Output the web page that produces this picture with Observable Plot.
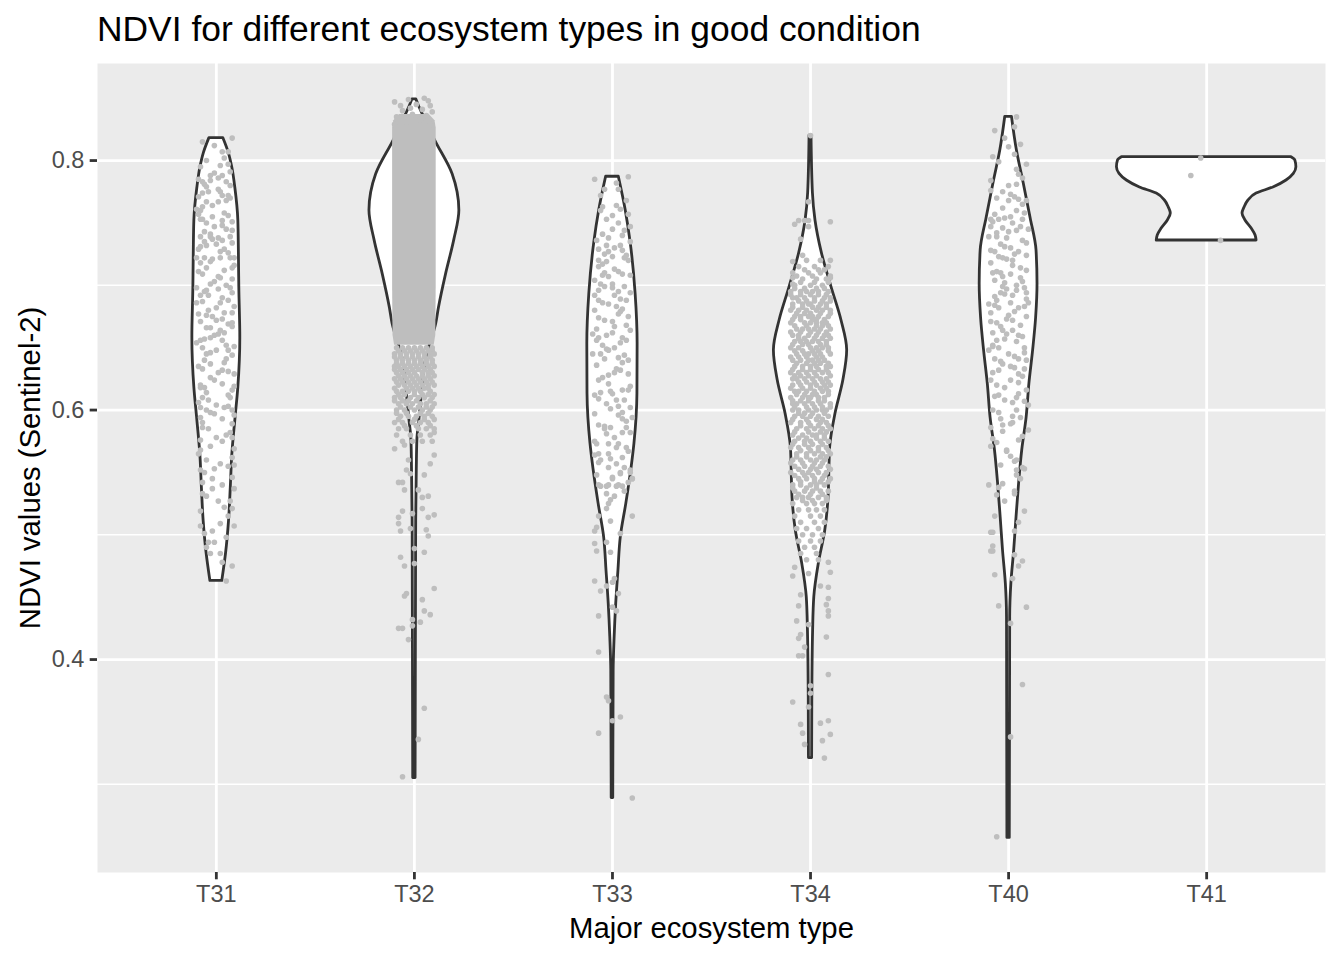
<!DOCTYPE html>
<html>
<head>
<meta charset="utf-8">
<script src="https://cdn.jsdelivr.net/npm/d3@7"></script>
<script src="https://cdn.jsdelivr.net/npm/@observablehq/plot@0.6"></script>
<style>
  html, body { margin: 0; padding: 0; background: white; }
  #wrap { position: relative; width: 1344px; height: 960px; font-family: "Liberation Sans", Arial, sans-serif; }
  #title { position: absolute; left: 97px; top: 12px; font-size: 35.4px; line-height: 35.4px; color: #000; white-space: nowrap; }
  #chart { position: absolute; left: 0; top: 50px; }
</style>
</head>
<body>
<div id="wrap">
  <div id="title">NDVI for different ecosystem types in good condition</div>
  <div id="chart"></div>
</div>
<script>
// ---------------- DATA ----------------
const categories = ["T31", "T32", "T33", "T34", "T40", "T41"];
const yMajorTicks = [0.4, 0.6, 0.8];
const yMinorTicks = [0.3, 0.5, 0.7];
const titleText = "NDVI for different ecosystem types in good condition";
const xTitle = "Major ecosystem type";
const yTitle = "NDVI values (Sentinel-2)";

// Violin outlines: [NDVI, half-width in category units]
const violinT31 = [[0.818,0.035],[0.806,0.063],[0.794,0.081],[0.778,0.096],[0.752,0.111],[0.725,0.114],[0.698,0.116],[0.658,0.121],[0.618,0.111],[0.592,0.096],[0.565,0.081],[0.538,0.073],[0.511,0.064],[0.485,0.049],[0.463,0.030]];
const violinT32 = [[0.849,0.010],[0.845,0.020],[0.835,0.048],[0.816,0.105],[0.789,0.193],[0.760,0.227],[0.736,0.201],[0.709,0.160],[0.682,0.124],[0.669,0.110],[0.642,0.060],[0.616,0.040],[0.592,0.025],[0.576,0.015],[0.552,0.012],[0.511,0.009],[0.447,0.008],[0.305,0.006]];
const violinT33 = [[0.787,0.032],[0.760,0.067],[0.734,0.092],[0.693,0.117],[0.653,0.127],[0.613,0.126],[0.573,0.111],[0.553,0.096],[0.525,0.070],[0.498,0.042],[0.471,0.030],[0.445,0.019],[0.418,0.011],[0.391,0.006],[0.289,0.004]];
const violinT34 = [[0.820,0.005],[0.774,0.012],[0.752,0.025],[0.726,0.057],[0.698,0.107],[0.672,0.156],[0.648,0.185],[0.624,0.166],[0.597,0.126],[0.570,0.099],[0.557,0.096],[0.530,0.091],[0.503,0.074],[0.477,0.042],[0.450,0.019],[0.423,0.013],[0.370,0.009],[0.321,0.008]];
const violinT40 = [[0.835,0.017],[0.808,0.042],[0.782,0.076],[0.754,0.111],[0.728,0.141],[0.701,0.146],[0.674,0.139],[0.648,0.124],[0.621,0.105],[0.594,0.091],[0.568,0.069],[0.541,0.053],[0.514,0.040],[0.487,0.028],[0.461,0.014],[0.434,0.008],[0.257,0.006]];
const violinT41 = [[0.8027,0.428],[0.800,0.448],[0.7946,0.453],[0.7893,0.440],[0.784,0.403],[0.7784,0.337],[0.7735,0.252],[0.768,0.211],[0.7623,0.191],[0.7575,0.181],[0.752,0.196],[0.7455,0.227],[0.7399,0.247],[0.7359,0.252]];

// Dense, overlapping point cloud of T32 (too many points to separate): [NDVI, half-width]
const cloudT32 = [[0.837,0.075],[0.832,0.104],[0.826,0.110],[0.700,0.110],[0.660,0.108],[0.652,0.100]];

// Jittered points: [NDVI x 1000, jitter offset x 100 (category units)]
const pointsT31 = [[815,-7],[818,8],[807,3],[807,6],[802,4],[797,6],[795,-8],[788,-3],[783,-7],[784,-3],[788,3],[783,5],[781,-6],[780,7],[775,-4],[775,2],[772,3],[771,-9],[767,-5],[767,1],[772,6],[761,-10],[760,-8],[753,-7],[753,-8],[755,-2],[752,3],[751,8],[747,-1],[744,8],[741,-3],[739,-8],[739,-3],[737,-2],[736,3],[739,7],[734,8],[732,-5],[733,0],[729,4],[729,-9],[722,-10],[722,-6],[721,-2],[722,2],[722,7],[722,9],[714,-5],[709,-7],[714,8],[706,2],[701,-3],[705,8],[698,7],[698,-10],[697,1],[694,8],[692,-4],[692,-8],[686,2],[686,-10],[682,0],[678,8],[678,4],[677,-9],[676,-5],[673,3],[672,0],[666,-3],[666,-5],[664,2],[669,6],[662,4],[658,-3],[656,-8],[656,3],[654,-10],[650,-7],[648,0],[648,6],[645,-5],[644,8],[637,-3],[638,4],[633,-7],[632,3],[629,9],[626,-3],[618,-8],[618,-6],[621,3],[616,8],[610,-7],[608,-4],[610,7],[602,-8],[600,-5],[602,4],[600,8],[594,-8],[597,-1],[598,-3],[589,8],[590,-7],[582,7],[576,-8],[578,0],[578,8],[568,-8],[569,9],[560,-5],[557,2],[553,-1],[556,9],[550,-6],[546,8],[542,-7],[537,-2],[537,9],[533,-7],[527,1],[527,7],[519,-8],[522,4],[521,8],[507,-8],[509,2],[507,9],[503,-2],[498,5],[494,-4],[494,-1],[490,-5],[485,-3],[485,2],[475,8],[478,3],[463,5],
  [790,-1],[786,1],[779,-5],[770,7],[763,-7],[758,4],[750,-5],[745,5],[735,-6],[727,2],[718,-8],[712,4],[703,-1],[695,-6],[688,6],[680,-4],[670,8],[660,-1],[652,5],[640,-6],[630,1],[620,-8],[612,6],[604,0],[596,9],[585,-4],[575,3],[565,-9],[555,6],[545,-2],
  [812,-1],[800,-5],[796,2],[791,7],[785,-9],[777,1],[774,-7],[768,5],[764,-2],[757,-9],[756,6],[748,3],[743,-6],[738,1],[731,-8],[726,6],[719,-3],[716,9],[711,-9],[707,1],[700,5],[696,-5],[690,3],[687,-7],[683,9],[675,-2],[671,-8],[667,8],[661,1],[657,-6],[651,9],[646,-3],[641,5],[635,-9],[631,6],[624,-1],[619,9],[614,-5],[606,-9],[603,6],[593,3],[586,-7],[580,5],[571,-3],[562,8],[552,-8],[540,3],[531,-5],[515,6],[501,-6]];

const pointsT32 = [[847,-10],[844,-7],[848,7],[844,8],[841,4],[840,-6],[835,-9],[836,6],[831,-4],[829,8],[829,-10],[837,-1],[833,3],[850,5],[849,-3],[842,-2],[839,9],[845,1],
  [569,-10],[572,-5],[582,10],[564,10],[557,8],[560,-3],[552,-4],[549,-2],[548,5],[542,-8],[542,-6],[536,-5],[536,2],[530,4],[531,7],[519,-6],[517,-1],[521,4],[516,10],[514,7],[514,-8],[509,-8],[503,-7],[505,-2],[504,6],[499,7],[489,0],[486,5],[482,-7],[475,-5],[477,0],[457,10],[453,-4],[451,-5],[448,4],[439,5],[436,8],[432,-1],[430,3],[427,-1],[425,-8],[425,-6],[416,-3],[361,5],[336,2],[306,-6]];
const rowsT32 = [[650,[-9,-6,-3,0,3,6,9]],[647.5,[-8,-5,-2,1,4,7,9]],[645,[-10,-7,-4,-1,2,5,8,10]],[642.5,[-10,-7,-4,-1,2,5,8]],[640,[-9,-6,-3,0,3,6,9]],[637.5,[-9,-6,-3,0,3,6,9]],[635,[-10,-8,-5,-2,1,4,7,10]],[632.5,[-10,-7,-4,-1,2,5,8]],[630,[-9,-6,-3,0,4,7,9]],[627.5,[-8,-5,-2,1,4,7,10]],[625,[-10,-7,-4,-1,2,5,8]],[622.5,[-9,-6,-3,0,3,6,9]],[620,[-8,-5,-2,1,4,7,10]],[617.5,[-10,-4,-1,2,5,7]],[615,[-9,-6,-3,0,3,8]],[612.5,[-8,-5,0,4,7,10]],[610,[-10,-7,-2,2,5,9]],[607.5,[-10,-6,-3,1,8]],[605,[-8,-4,-1,3,6,10]],[602.5,[-7,-2,2,6,9]],[600,[-9,-5,0,4,8]],[597.5,[-9,-4,3,7]],[595,[-7,-3,1,5,9]],[592.5,[-8,0,5,10]],[590,[-10,-6,-1,3,7]],[587.5,[-5,1,8]],[585,[-8,-4,2,6,10]],[580,[-9,-2,3,8]],[575,[-6,-1,4,9]]];

const pointsT33 = [[785,-9],[787,8],[777,-4],[777,3],[763,-5],[764,2],[761,4],[757,8],[756,0],[747,9],[745,0],[741,-5],[740,5],[735,9],[732,-3],[729,-7],[732,4],[728,5],[725,-4],[727,-2],[720,-7],[723,0],[720,8],[719,-3],[715,-7],[713,1],[709,5],[708,9],[708,-5],[707,-2],[701,-6],[701,0],[699,-4],[696,-7],[699,6],[692,-9],[692,1],[689,4],[688,-7],[685,-2],[688,7],[683,2],[681,5],[677,3],[675,8],[672,-4],[671,0],[665,-8],[658,-7],[660,-3],[662,0],[658,5],[664,9],[654,4],[656,-8],[650,1],[648,-2],[645,-6],[645,-10],[642,3],[641,-4],[638,5],[633,2],[630,1],[629,8],[624,-7],[621,-2],[616,8],[614,-6],[613,0],[616,5],[608,2],[605,-3],[608,6],[602,9],[601,-1],[596,3],[593,5],[594,10],[588,-7],[586,-1],[586,7],[581,-3],[582,5],[582,9],[573,-8],[573,-2],[573,3],[565,-7],[565,-2],[570,7],[562,5],[564,-9],[558,-7],[557,2],[554,-2],[554,6],[552,9],[550,4],[545,0],[545,10],[540,-7],[540,-2],[540,3],[542,8],
  [550,9],[549,4],[546,0],[539,-6],[539,-3],[539,2],[539,5],[533,-3],[531,1],[525,-2],[528,-1],[545,10],[515,-7],[515,10],[511,-1],[506,-8],[503,-9],[501,4],[493,-9],[494,-3],[486,-1],[487,-8],[463,-9],[459,-3],[455,-6],[465,1],[462,0],[453,3],[442,0],[439,2],[435,-7],[406,-7],[370,-3],[367,-2],[351,0],[354,4],[341,-7],[289,10],
  [760,-6],[750,3],[738,-2],[722,6],[710,-4],[695,3],[680,-9],[668,7],[652,-5],[640,8],[628,-2],[612,-9],[598,5],[585,-4],[570,2],[560,-6],
  [782,2],[772,-6],[768,7],[753,-3],[744,6],[736,-8],[730,1],[724,7],[717,-5],[711,3],[704,-9],[698,0],[694,9],[686,-5],[679,4],[674,-7],[667,1],[661,-10],[656,7],[649,-3],[644,6],[636,-8],[632,4],[626,-5],[619,9],[615,-1],[609,-7],[603,3],[597,-9],[591,7],[587,-4],[578,1],[575,-9],[567,8],[561,-1],[548,-8],[535,6],[521,-3]];

const pointsT34 = [[820,0],[767,-1],[749,-8],[752,-6],[752,-3],[752,-1],[751,10],[747,-1],[737,-5],[719,-9],[724,-4],[720,-2],[720,5],[720,10],[706,-9],[706,10],[701,-9],
  [474,-8],[467,-9],[478,9],[470,10],[469,-1],[459,5],[458,9],[452,-5],[449,9],[443,-6],[444,8],[439,9],[435,9],[431,-7],[428,-1],[420,-5],[417,-6],[418,8],[410,-3],[403,-6],[403,-4],[388,9],[379,0],[373,0],[366,-9],[362,-1],[348,-5],[349,5],[351,9],[341,-4],[340,10],[332,-3],[335,6],[321,7]];
const rowsT34 = [[715,[-6,2,9]],[712.5,[-3,4,7]],[710,[-9,-1,5]],[707.5,[-7,1,10]],[705,[-4,3,8]],[702.5,[-5,2,9]],[700,[-8,0,6]],[697.5,[-8,-3,3,7]],[695,[-10,-5,1,4,9,-2]],[692.5,[-10,-5,0,4,8]],[690,[-7,-3,2,7,10,-9]],[687.5,[-6,-2,2,6,10]],[685,[-9,-4,0,5,8,-1]],[682.5,[-9,-4,1,4,8]],[680,[-6,-2,3,6,10,-10]],[677.5,[-7,-3,0,5,10]],[675,[-8,-5,1,4,9,-1]],[672.5,[-9,-5,1,3,7]],[670,[-10,-3,0,6,8,3]],[667.5,[-8,-2,3,6,9]],[665,[-7,-4,2,5,10,-1]],[662.5,[-10,-5,0,4,8]],[660,[-9,-6,-1,3,7,9]],[657.5,[-6,-3,2,6,10]],[655,[-8,-2,1,4,8,-5]],[652.5,[-9,-4,-1,5,8]],[650,[-10,-6,0,3,6,9]],[647.5,[-8,-4,1,4,9]],[645,[-7,-3,2,5,10,-1]],[642.5,[-10,-6,-2,3,6]],[640,[-9,-5,-1,4,7,1]],[637.5,[-7,-2,2,5,9]],[635,[-8,-4,0,3,8,10]],[632.5,[-9,-4,0,4,8]],[630,[-10,-6,-2,2,6,9]],[627.5,[-8,-5,-1,3,10]],[625,[-7,-3,1,5,8,-9]],[622.5,[-6,-2,2,6,9]],[620,[-9,-5,0,3,7,10]],[617.5,[-10,-4,0,5,8]],[615,[-8,-2,2,6,9,-6]],[612.5,[-7,-3,1,3,9]],[610,[-10,-4,0,4,7,-1]],[607.5,[-9,-5,-1,4,7]],[605,[-7,-3,1,5,10,-9]],[602.5,[-8,-2,2,6,10]],[600,[-9,-6,-1,3,6,8]],[597.5,[-6,-3,1,7]],[595,[-8,-4,0,4,9]],[592.5,[-9,-2,3,6]],[590,[-10,-5,-1,5,8]],[587.5,[-5,0,4,9]],[585,[-7,-2,2,6,10]],[582.5,[-8,-1,5,8]],[580,[-9,-4,1,3,7]],[577.5,[-6,-2,3,7]],[575,[-8,-3,0,5,9]],[572.5,[-9,-3,1,6]],[570,[-10,-6,-1,4,8]],[567.5,[-5,0,4,9]],[565,[-7,-2,2,6,10]],[562.5,[-7,-2,5,8]],[560,[-9,-5,0,3,7]],[557.5,[-10,-4,2,6]],[555,[-8,-3,1,5,9]],[552.5,[-6,0,3,10]],[550,[-10,-4,-1,4,8]],[547.5,[-8,-3,1,7]],[545,[-6,-2,2,6,10]],[542.5,[-5,2,5,9]],[540,[-9,-5,0,3,7]],[537.5,[-9,-2,3]],[535,[-8,-3,1,5,9]],[532.5,[-6,0,6]],[530,[-7,-4,-1,4,8]],[527.5,[-4,1,8]],[525,[-9,-2,2,6]],[520,[-6,-1,3,7]],[515,[-8,0,5]],[510,[-5,2,7]],[505,[-7,-2,4]],[500,[-4,1,6]],[495,[-6,0,5]],[490,[-3,2]],[485,[-5,3]],[480,[-2,4]]];

const pointsT40 = [[835,4],[824,-7],[827,3],[811,0],[803,-8],[805,3],[797,9],[793,4],[784,-9],[789,5],[780,0],[781,4],[770,-6],[773,1],[768,0],[768,9],[769,5],[760,4],[753,-9],[753,-5],[754,-2],[755,1],[753,7],[747,-9],[746,-3],[747,6],[745,10],[739,-10],[739,-6],[743,0],[733,-4],[730,1],[727,-7],[727,5],[723,-5],[724,9],[721,-1],[720,2],[710,-8],[710,-4],[709,1],[712,9],[706,6],[704,-7],[702,-2],[698,8],[697,-1],[694,9],[694,-4],[696,4],[685,-10],[688,-6],[693,-2],[686,1],[686,10],[678,-9],[682,-5],[682,5],[673,-1],[672,2],[675,9],[670,-6],[662,-8],[664,-3],[664,2],[659,7],[656,-6],[657,-2],[650,-5],[650,8],[648,-10],[645,0],[641,5],[641,-7],[640,9],[632,-5],[634,3],[633,8],[624,-9],[624,1],[629,5],[616,9],[612,-5],[608,-2],[606,2],[613,5],[604,10],[600,4],[593,-4],[594,6],[586,-9],[589,1],[588,-3],[584,10],[577,-8],[576,5],[574,-6],[568,-1],[560,4],[554,7],
  [567,-1],[559,3],[552,4],[553,8],[548,4],[540,-10],[538,-5],[541,-3],[532,-6],[535,3],[533,3],[515,-7],[519,8],[502,-9],[502,-8],[503,3],[491,-8],[487,-9],[487,-8],[484,3],[479,7],[475,5],[468,-7],[465,2],[443,-5],[442,9],[429,1],[380,7],[338,1],[258,-6],
  [775,-3],[765,7],[757,-7],[750,2],[742,-6],[736,7],[731,-2],[725,3],[718,-9],[714,6],[707,-3],[700,4],[691,-7],[683,8],[676,0],[667,-4],[660,5],[652,-8],[643,3],[637,-3],[627,7],[620,-6],[610,4],[600,-8],[590,2],
  [818,-2],[813,6],[799,-5],[786,7],[776,-9],[771,3],[762,-3],[758,8],[751,-8],[744,4],[738,-1],[734,9],[728,-9],[722,-3],[716,2],[711,-6],[703,7],[699,-3],[692,2],[689,9],[684,-7],[679,3],[671,-9],[668,6],[661,-1],[655,4],[651,-8],[646,8],[639,-4],[635,1],[630,-8],[622,5],[618,-2],[611,-7],[607,8],[598,-5],[595,2],[583,-3],[579,7],[571,-9],[563,1],[556,-4],[545,6],[527,-2],[510,5]];

const pointsT41 = [[802,-3],[788,-8],[736,7]];

// ---------------- BUILD ----------------
const violins = {T31: violinT31, T32: violinT32, T33: violinT33, T34: violinT34, T40: violinT40, T41: violinT41};
const points = {T31: pointsT31, T32: pointsT32, T33: pointsT33, T34: pointsT34, T40: pointsT40, T41: pointsT41};
const rows = {T32: rowsT32, T34: rowsT34};
const positions = categories.map((c, i) => i + 1);
const posOf = c => categories.indexOf(c) + 1;

const violinRows = categories.flatMap(c =>
  violins[c].map(([y, hw]) => ({cat: c, y, x1: posOf(c) - hw, x2: posOf(c) + hw})).sort((a, b) => a.y - b.y));
const cloudRows = cloudT32.map(([y, hw]) => ({cat: "T32", y, x1: posOf("T32") - hw, x2: posOf("T32") + hw})).sort((a, b) => a.y - b.y);
const pointRows = categories.flatMap(c => {
  const list = (points[c] || []).slice();
  (rows[c] || []).forEach(([v, dxs]) => dxs.forEach(dx => list.push([v, dx])));
  return list.map(([v, dx]) => ({cat: c, y: v / 1000, x: posOf(c) + dx / 100}));
});

document.getElementById("title").textContent = titleText;

const chart = Plot.plot({
  width: 1344,
  height: 910,
  marginLeft: 97,
  marginRight: 19,
  marginTop: 13,
  marginBottom: 88,
  style: {fontFamily: "'Liberation Sans', Arial, sans-serif", background: "white", overflow: "visible"},
  x: {type: "linear", domain: [0.4, 6.6]},
  y: {type: "linear", domain: [0.2293, 0.8778]},
  marks: [
    Plot.frame({fill: "#EBEBEB", stroke: "none"}),
    Plot.gridY(yMinorTicks, {stroke: "white", strokeOpacity: 1, strokeWidth: 1.4}),
    Plot.gridY(yMajorTicks, {stroke: "white", strokeOpacity: 1, strokeWidth: 2.8}),
    Plot.gridX(positions, {stroke: "white", strokeOpacity: 1, strokeWidth: 2.8}),
    Plot.areaX(violinRows, {y: "y", x1: "x1", x2: "x2", z: "cat", fill: "white", stroke: "#333333", strokeWidth: 2.8, curve: "monotone-y"}),
    Plot.areaX(cloudRows, {y: "y", x1: "x1", x2: "x2", z: "cat", fill: "#BEBEBE", curve: "linear"}),
    Plot.dot(pointRows, {x: "x", y: "y", r: 2.8, fill: "#BEBEBE", stroke: "none"}),
    Plot.axisX({ticks: positions, tickFormat: d => categories[Math.round(d) - 1], tickSize: 7.3, tickPadding: 5.9, fontSize: 23.5, stroke: "#333333", strokeWidth: 2.8, fill: "#4D4D4D", label: null}),
    Plot.axisY({ticks: yMajorTicks, tickFormat: d3.format(".1f"), tickSize: 7.3, tickPadding: 5.9, fontSize: 23.5, stroke: "#333333", strokeWidth: 2.8, fill: "#4D4D4D", label: null}),
    Plot.text([xTitle], {frameAnchor: "bottom", dy: 56, lineAnchor: "middle", textAnchor: "middle", fontSize: 29.3, fill: "black"}),
    Plot.text([yTitle], {frameAnchor: "left", dx: -67, rotate: -90, lineAnchor: "middle", textAnchor: "middle", fontSize: 29.3, fill: "black"})
  ]
});
document.getElementById("chart").appendChild(chart);
</script>
</body>
</html>
